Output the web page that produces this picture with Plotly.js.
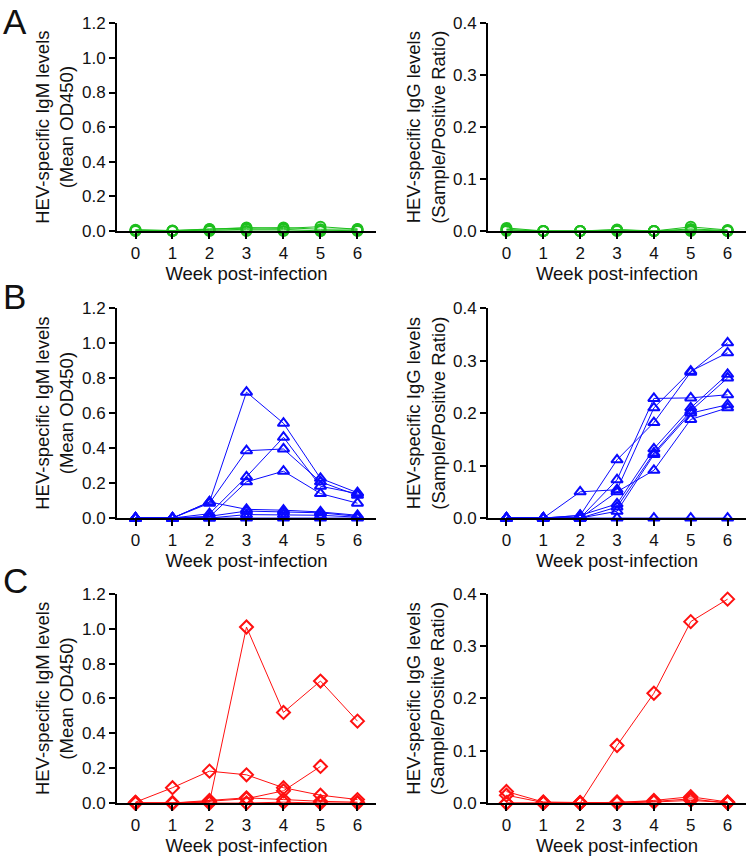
<!DOCTYPE html>
<html>
<head>
<meta charset="utf-8">
<script src="https://cdn.plot.ly/plotly-3.0.1.min.js"></script>
<style>html,body{margin:0;padding:0;background:#fff}#chart{width:750px;height:862px}</style>
</head>
<body>
<div id="chart"></div>
<script>
// ---- data ----
const weeks = [0, 1, 2, 3, 4, 5, 6];
const weekLabels = ['0', '1', '2', '3', '4', '5', '6'];
const panelLetters = ['A', 'B', 'C'];

// Group A (green circles)
const igmA = [
  [0.005, 0.003, 0.010, 0.020, 0.015, 0.025, 0.010],
  [0.000, 0.000, 0.005, 0.010, 0.010, 0.000, 0.005],
  [0.002, 0.000, 0.000, 0.000, 0.000, 0.000, 0.000],
  [0.008, 0.002, 0.012, 0.016, 0.020, 0.010, 0.012]
];
const iggA = [
  [0.006, 0.000, 0.000, 0.003, 0.000, 0.008, 0.002],
  [0.003, 0.000, 0.000, 0.001, 0.000, 0.004, 0.001],
  [0.000, 0.000, 0.000, 0.000, 0.000, 0.000, 0.000],
  [0.002, 0.000, 0.000, 0.002, 0.000, 0.002, 0.000]
];

// Group B (blue triangles)
const igmB = [
  [0, 0, 0.092, 0.720, 0.542, 0.227, 0.145],
  [0, 0, 0.085, 0.385, 0.395, 0.207, 0.130],
  [0, 0, 0.025, 0.236, 0.462, 0.182, 0.140],
  [0, 0, 0.006, 0.207, 0.268, 0.140, 0.085],
  [0, 0, 0.092, 0.050, 0.045, 0.035, 0.016],
  [0, 0, 0.010, 0.040, 0.035, 0.030, 0.010],
  [0, 0, 0.000, 0.020, 0.020, 0.016, 0.005],
  [0, 0, 0.000, 0.000, 0.000, 0.000, 0.000]
];
const iggB = [
  [0, 0, 0.005, 0.111, 0.182, 0.278, 0.334],
  [0, 0, 0.050, 0.054, 0.210, 0.280, 0.315],
  [0, 0, 0.000, 0.073, 0.228, 0.229, 0.235],
  [0, 0, 0.005, 0.027, 0.132, 0.210, 0.274],
  [0, 0, 0.000, 0.021, 0.124, 0.204, 0.267],
  [0, 0, 0.000, 0.013, 0.121, 0.200, 0.216],
  [0, 0, 0.000, 0.050, 0.091, 0.188, 0.210],
  [0, 0, 0.000, 0.000, 0.000, 0.000, 0.000]
];

// Group C (red diamonds)
const igmC = [
  [0.000, 0.000, 0.005, 1.010, 0.520, 0.700, 0.470],
  [0.005, 0.088, 0.183, 0.162, 0.088, 0.045, 0.020],
  [0.000, 0.000, 0.010, 0.025, 0.070, 0.210, null],
  [0.000, 0.000, 0.015, 0.030, 0.020, 0.010, 0.005],
  [0.000, 0.000, 0.000, 0.000, 0.005, 0.000, 0.000]
];
const iggC = [
  [0.000, 0.000, 0.000, 0.110, 0.210, 0.347, 0.390],
  [0.022, 0.002, 0.001, 0.001, 0.005, 0.012, 0.002],
  [0.015, 0.001, 0.000, 0.002, 0.003, 0.008, 0.000],
  [0.000, 0.000, 0.000, 0.000, 0.002, 0.005, 0.001]
];

const igmTicks = [0, 0.2, 0.4, 0.6, 0.8, 1.0, 1.2];
const iggTicks = [0, 0.1, 0.2, 0.3, 0.4];
const igmTitle = 'HEV-specific IgM levels<br>(Mean OD450)';
const iggTitle = 'HEV-specific IgG levels<br>(Sample/Positive Ratio)';
const xTitle = 'Week post-infection';

// ---- styles ----
const groups = [
  {igm: igmA, igg: iggA, color: '#1ebf1e', symbol: 'circle-open'},
  {igm: igmB, igg: iggB, color: '#0a0aff', symbol: 'triangle-up-open'},
  {igm: igmC, igg: iggC, color: '#ff1010', symbol: 'diamond-open'}
];
const FONT = 'Arial, "Liberation Sans", sans-serif';
const TICK_SIZE = 17;
const TITLE_SIZE = 18.5;
const rowDomains = [[0.732, 0.973], [0.399, 0.6425], [0.0684, 0.311]];
const letterY = [21, 296, 580];
const colDomains = [[0.156, 0.5013], [0.6507, 0.9947]];

const traces = [];
const layout = {
  width: 750, height: 862,
  margin: {l: 0, r: 0, t: 0, b: 0},
  paper_bgcolor: '#fff', plot_bgcolor: '#fff',
  showlegend: false,
  font: {family: FONT, size: 16, color: '#111'},
  annotations: []
};

let axisIndex = 0;
groups.forEach((g, r) => {
  [['igm', igmTicks, 1.2, igmTitle], ['igg', iggTicks, 0.4, iggTitle]].forEach((spec, c) => {
    axisIndex += 1;
    const xa = axisIndex === 1 ? 'x' : 'x' + axisIndex;
    const ya = axisIndex === 1 ? 'y' : 'y' + axisIndex;
    const xKey = axisIndex === 1 ? 'xaxis' : 'xaxis' + axisIndex;
    const yKey = axisIndex === 1 ? 'yaxis' : 'yaxis' + axisIndex;
    g[spec[0]].forEach(series => {
      traces.push({
        x: weeks, y: series, xaxis: xa, yaxis: ya,
        type: 'scatter', mode: 'lines+markers', cliponaxis: false,
        connectgaps: false,
        line: {color: g.color, width: 1},
        marker: {symbol: g.symbol, size: 10, color: g.color, line: {color: g.color, width: 2}},
        hoverinfo: 'skip'
      });
    });
    layout[xKey] = {
      domain: colDomains[c], anchor: ya,
      range: [-0.5, 6.5], fixedrange: true,
      tickmode: 'array', tickvals: weeks, ticktext: weekLabels,
      ticks: 'outside', ticklen: 6, tickwidth: 2, tickcolor: '#000',
      showline: true, linecolor: '#000', linewidth: 2,
      showgrid: false, zeroline: false,
      tickfont: {family: FONT, size: TICK_SIZE, color: '#111'},
      title: {text: xTitle, font: {family: FONT, size: TITLE_SIZE, color: '#111'}, standoff: 4}
    };
    layout[yKey] = {
      domain: rowDomains[r], anchor: xa,
      range: [0, spec[2]], fixedrange: true,
      tickmode: 'array', tickvals: spec[1], ticktext: spec[1].map(v => v.toFixed(1)),
      ticks: 'outside', ticklen: 6, tickwidth: 2, tickcolor: '#000',
      showline: true, linecolor: '#000', linewidth: 2,
      showgrid: false, zeroline: false,
      tickfont: {family: FONT, size: TICK_SIZE, color: '#111'},
      title: {text: spec[3], font: {family: FONT, size: TITLE_SIZE, color: '#111'}, standoff: 3}
    };
  });
  layout.annotations.push({
    text: panelLetters[r], xref: 'paper', yref: 'paper',
    x: 0.003, y: 1 - letterY[r] / 862, xanchor: 'left', yanchor: 'middle',
    borderpad: 0,
    showarrow: false, font: {family: FONT, size: 35, color: '#111'}
  });
});

Plotly.newPlot('chart', traces, layout, {staticPlot: true});
</script>
</body>
</html>
